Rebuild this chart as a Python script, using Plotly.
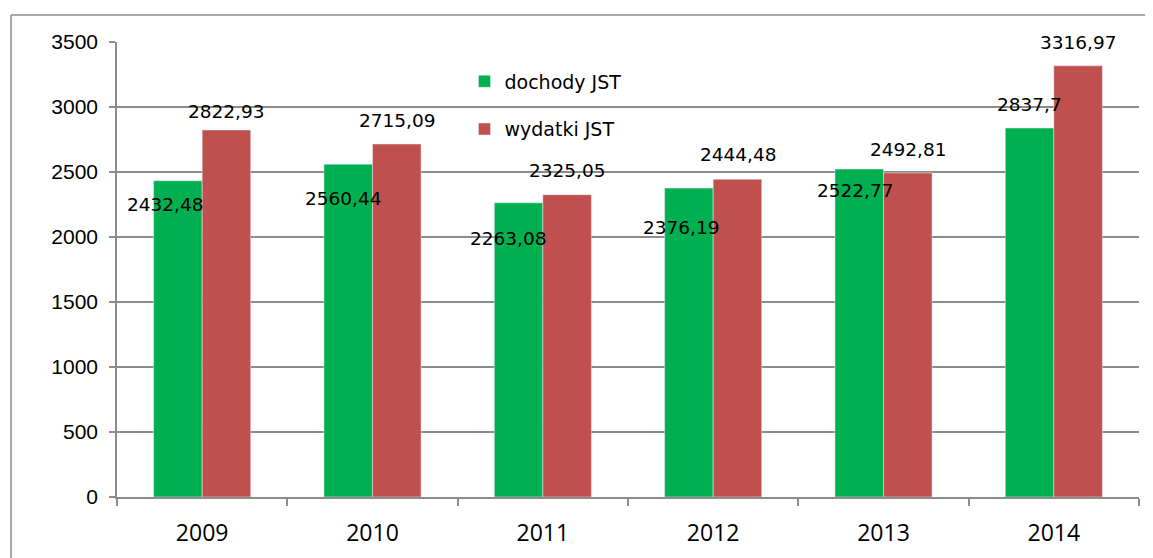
import plotly.graph_objects as go

years = ["2009", "2010", "2011", "2012", "2013", "2014"]
dochody = [2432.48, 2560.44, 2263.08, 2376.19, 2522.77, 2837.7]
wydatki = [2822.93, 2715.09, 2325.05, 2444.48, 2492.81, 3316.97]
dochody_labels = ["2432,48", "2560,44", "2263,08", "2376,19", "2522,77", "2837,7"]
wydatki_labels = ["2822,93", "2715,09", "2325,05", "2444,48", "2492,81", "3316,97"]
y_ticks = [0, 500, 1000, 1500, 2000, 2500, 3000, 3500]

# label placement offsets (pixels) relative to category centre / bar top
dochody_dx = [-37, -29, -34, -32, -28.5, -24]
dochody_dy = [-24, -34.5, -35.5, -39, -21, 23.5]
wydatki_dx = [24, 24.5, 25, 25, 25, 25]
wydatki_dy = [18.5, 24, 24, 25, 23.5, 23.7]

GREEN = "#00B050"
RED = "#C0504D"
GRID = "#8c8c8c"

fig = go.Figure()
fig.add_trace(go.Bar(x=years, y=dochody, name="dochody JST", marker_color=GREEN,
                     legendgroup="a", hoverinfo="skip"))
fig.add_trace(go.Bar(x=years, y=wydatki, name="wydatki JST", marker_color=RED,
                     legendgroup="b", hoverinfo="skip"))

label_font = dict(family="DejaVu Sans", size=18.5, color="#000000")
for i, yr in enumerate(years):
    fig.add_annotation(x=i, y=dochody[i], text=dochody_labels[i], showarrow=False,
                       xshift=dochody_dx[i], yshift=dochody_dy[i], yanchor="middle",
                       xanchor="center", font=label_font)
    fig.add_annotation(x=i, y=wydatki[i], text=wydatki_labels[i], showarrow=False,
                       xshift=wydatki_dx[i], yshift=wydatki_dy[i], yanchor="middle",
                       xanchor="center", font=label_font)

# chart border (outer frame: left and top edges visible)
fig.add_shape(type="line", xref="paper", yref="paper", x0=-0.1037, x1=-0.1037,
              y0=-0.3, y1=1.0593, line=dict(color=GRID, width=1.5), layer="below")
fig.add_shape(type="line", xref="paper", yref="paper", x0=-0.1037, x1=1.0127,
              y0=1.0593, y1=1.0593, line=dict(color=GRID, width=1.5), layer="below")

fig.update_layout(
    width=1145, height=550,
    margin=dict(l=109, r=14, t=34, b=61, autoexpand=False),
    paper_bgcolor="white", plot_bgcolor="white",
    barmode="group", bargap=0.43, bargroupgap=0,
    showlegend=True,
    legend=dict(x=0.34, y=0.955, xanchor="left", yanchor="top",
                bgcolor="rgba(0,0,0,0)", traceorder="grouped", tracegroupgap=20,
                font=dict(family="DejaVu Sans", size=19, color="#000000")),
    xaxis=dict(type="category", range=[-0.5, 5.5], autorange=False, automargin=False,
               showline=True, linecolor=GRID, linewidth=1.5,
               ticks="outside", tickson="boundaries", ticklen=7, tickcolor=GRID,
               tickwidth=1.5, showgrid=False, tickangle=0, ticklabelstandoff=15,
               tickfont=dict(family="Open Sans", size=23, color="#000000")),
    yaxis=dict(range=[0, 3500], autorange=False, automargin=False, tickvals=y_ticks,
               showline=True, linecolor=GRID,
               linewidth=1.5, ticks="outside", ticklen=6, tickcolor=GRID, tickwidth=1.5,
               showgrid=True, gridcolor=GRID, gridwidth=1.5, zeroline=False,
               ticklabelstandoff=7,
               tickfont=dict(family="Liberation Sans", size=21, color="#000000")),
)

fig.write_html("out.html", config={"displayModeBar": False})
